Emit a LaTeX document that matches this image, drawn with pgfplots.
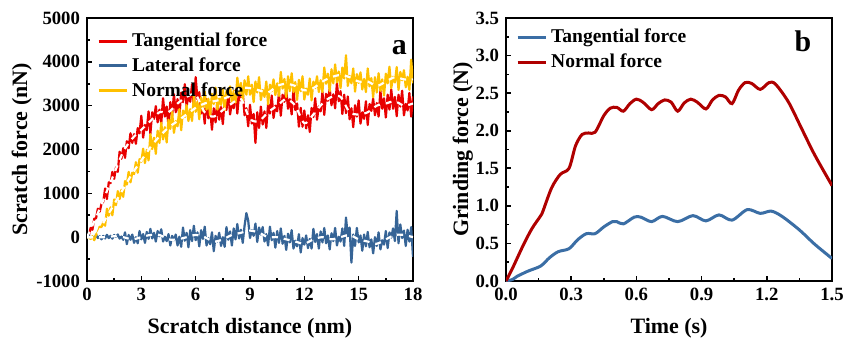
\documentclass[border=0pt]{standalone}
\usepackage{fontspec}
\setmainfont{Liberation Serif}
\usepackage{pgfplots}
\usepackage{pgfplotstable}
\pgfplotsset{compat=1.18}
\definecolor{cRed}{RGB}{232,0,0}
\definecolor{cYel}{RGB}{255,192,0}
\definecolor{cBlu}{RGB}{54,100,150}
\definecolor{dRed}{RGB}{175,0,0}
\definecolor{dBlu}{RGB}{59,110,165}

\pgfplotstableread{
x T L N
0.0 0 0 0
0.1 40 40 0
0.2 210 -30 -40
0.3 170 10 20
0.4 420 -40 -70
0.5 430 50 60
0.6 650 -20 110
0.7 580 20 240
0.8 760 -50 230
0.9 810 30 340
1.0 1110 -30 260
1.1 870 54 650
1.2 1250 -22 490
1.3 1230 32 680
1.4 1490 -34 500
1.5 1330 50 860
1.6 1590 6 730
1.7 1490 62 1050
1.8 1950 -32 870
1.9 1790 14 1080
2.0 2030 -60 920
2.1 1810 110 1280
2.2 2190 -160 1200
2.3 2030 50 1490
2.4 2370 -60 1250
2.5 2150 60 1470
2.6 2350 -130 1440
2.7 2130 0 1710
2.8 2490 -140 1470
2.9 2370 140 1780
3.0 2770 -50 1720
3.1 2270 70 2020
3.2 2560 -130 1690
3.3 2440 120 1990
3.4 2870 -40 1750
3.5 2360 190 2350
3.6 2850 -30 2010
3.7 2700 100 2270
3.8 2990 -100 1900
3.9 2620 140 2430
4.0 2910 20 2150
4.1 2590 180 2610
4.2 3170 -100 2230
4.3 2750 10 2510
4.4 2980 -90 2160
4.5 2530 70 2680
4.6 3080 -190 2470
4.7 2770 30 2860
4.8 3260 -70 2380
4.9 2850 60 2650
5.0 3150 -190 2530
5.1 2760 10 2920
5.2 3300 -220 2440
5.3 3080 220 2890
5.4 3490 -80 2740
5.5 2980 100 3010
5.6 3240 -230 2650
5.7 3090 160 2920
5.8 3490 -90 2650
5.9 2950 260 3220
6.0 3650 -70 2860
6.1 3140 110 3090
6.2 3310 -210 2690
6.3 2820 160 3190
6.4 2990 -40 2880
6.5 2590 240 3320
6.6 3150 -190 2910
6.7 2710 -20 3160
6.8 2920 -160 2780
6.9 2450 110 3270
7.0 2940 -320 3040
7.1 2620 30 3410
7.2 3100 -100 2910
7.3 2680 100 3160
7.4 2970 -200 3020
7.5 2580 0 3390
7.6 3120 -220 2900
7.7 2900 230 3340
7.8 3310 -60 3180
7.9 2800 130 3440
8.0 3080 -190 3070
8.1 2940 200 3340
8.2 3350 -50 3070
8.3 2820 300 3640
8.4 3290 -30 3280
8.5 3120 170 3520
8.6 3280 -130 3100
8.7 2780 260 3580
8.8 2940 550 3250
8.9 2530 380 3670
9.0 3020 -20 3250
9.1 2590 160 3480
9.2 2810 30 3080
9.3 2150 310 3550
9.4 2850 -110 3300
9.5 2490 220 3650
9.6 2980 60 3130
9.7 2570 230 3360
9.8 2870 -100 3200
9.9 2490 70 3550
10.0 3040 -190 3030
10.1 2820 240 3480
10.2 3230 -70 3330
10.3 2720 100 3600
10.4 3000 -240 3240
10.5 2870 140 3510
10.6 3290 -130 3220
10.7 2770 200 3770
10.8 3250 -150 3390
10.9 3090 30 3610
11.0 3370 -290 3200
11.1 2930 80 3670
11.2 3150 -120 3330
11.3 2800 160 3740
11.4 3350 -260 3310
11.5 2900 -80 3540
11.6 3050 -210 3130
11.7 2520 70 3590
11.8 2950 -350 3330
11.9 2520 -20 3670
12.0 2890 -170 3140
12.1 2480 40 3390
12.2 2780 -250 3250
12.3 2400 -40 3620
12.4 2950 -260 3120
12.5 2740 190 3550
12.6 3170 -110 3400
12.7 2680 70 3670
12.8 2980 -260 3310
12.9 2870 130 3580
13.0 3310 -120 3310
13.1 2790 210 3870
13.2 3270 -140 3500
13.3 3110 40 3730
13.4 3390 -280 3330
13.5 3010 90 3830
13.6 3260 -90 3510
13.7 2940 210 3940
13.8 3520 -190 3530
13.9 3100 10 3780
14.0 3330 -100 3400
14.1 2810 200 3870
14.2 3250 -200 3620
14.3 2830 450 4150
14.4 3210 20 3450
14.5 2690 220 3680
14.6 2940 -580 3510
14.7 2510 60 3850
14.8 3010 -200 3320
14.9 2750 210 3720
15.0 3120 -120 3520
15.1 2590 40 3760
15.2 2850 -310 3370
15.3 2700 60 3610
15.4 3100 -210 3310
15.5 2560 120 3850
15.6 3040 -230 3440
15.7 2880 -50 3630
15.8 3160 -370 3190
15.9 2780 0 3650
16.0 3060 -200 3300
16.1 2750 110 3740
16.2 3340 -280 3340
16.3 2930 -70 3600
16.4 3170 -170 3230
16.5 2730 140 3730
16.6 3250 -250 3510
16.7 2910 110 3890
16.8 3370 -10 3400
16.9 2930 200 3660
17.0 3200 -90 3530
17.1 2760 600 3880
17.2 3250 -140 3360
17.3 2980 290 3770
17.4 3340 -20 3580
17.5 2780 150 3810
17.6 3040 -200 3420
17.7 2890 170 3660
17.8 3290 -100 3360
17.9 2750 230 4050
18.0 3210 -450 3510
}\scratchdata

\pgfplotstableread{
x T L N
0 0 0 0
0.5 450 0 30
1 950 0 400
1.5 1450 20 750
2 1950 0 1100
2.5 2250 -50 1450
3 2450 0 1750
3.5 2650 50 2050
4 2850 50 2300
4.5 2850 -50 2500
5 3050 -50 2650
5.5 3200 0 2800
6 3250 50 2950
6.5 2850 0 3050
7 2750 -100 3100
7.5 2900 -50 3150
8 3050 50 3250
8.5 3150 100 3400
9 2700 150 3400
9.5 2650 100 3350
10 2850 0 3300
10.5 3000 0 3450
11 3150 -50 3500
11.5 3000 -100 3450
12 2600 -150 3350
12.5 2800 -50 3400
13 3050 0 3550
13.5 3200 -50 3650
14 3200 0 3700
14.5 2850 50 3650
15 2800 -50 3550
15.5 2850 -100 3550
16 3000 -150 3450
16.5 3050 -50 3550
17 3100 50 3650
17.5 3000 50 3600
18 3050 0 3600
}\scratchmean

\pgfplotstableread{
x y
0.00 0.00
0.03 0.17
0.08 0.48
0.12 0.70
0.16 0.87
0.17 0.93
0.21 1.24
0.25 1.42
0.29 1.50
0.32 1.80
0.35 1.95
0.38 1.97
0.41 1.98
0.45 2.20
0.48 2.30
0.51 2.31
0.54 2.26
0.57 2.36
0.60 2.42
0.63 2.38
0.67 2.28
0.70 2.36
0.73 2.41
0.76 2.38
0.79 2.26
0.82 2.37
0.85 2.42
0.88 2.38
0.92 2.29
0.95 2.41
0.98 2.47
1.01 2.45
1.04 2.36
1.07 2.54
1.10 2.64
1.13 2.63
1.17 2.55
1.21 2.64
1.24 2.62
1.30 2.38
1.36 2.03
1.42 1.68
1.50 1.27
}\normalforce

\pgfplotstableread{
x y
0.00 0.00
0.03 0.02
0.05 0.06
0.10 0.13
0.16 0.20
0.20 0.31
0.24 0.39
0.29 0.43
0.33 0.55
0.37 0.63
0.41 0.63
0.45 0.72
0.49 0.79
0.51 0.79
0.54 0.76
0.59 0.85
0.62 0.85
0.67 0.79
0.72 0.86
0.79 0.79
0.86 0.87
0.92 0.80
0.98 0.88
1.04 0.81
1.11 0.95
1.17 0.90
1.22 0.93
1.27 0.86
1.35 0.68
1.42 0.49
1.50 0.30
}\tangforce

\pgfplotsset{
  myaxis/.style={
    scale only axis, width=163bp, height=131.5bp,
    axis line style={line width=1bp},
    every tick/.style={line width=0.8bp, black},
    major tick length=2.5bp, minor tick length=1.5bp,
    tick align=inside, xtick pos=bottom, ytick pos=left,
    minor tick num=1,
    tick label style={font=\fontsize{9.4}{10}\selectfont\bfseries},
    label style={font=\fontsize{11}{13}\selectfont\bfseries},
    xlabel style={at={(axis description cs:0.5,-0.198)}, anchor=base},
    legend cell align=left,
    legend style={draw=none, fill=none, inner sep=0pt, row sep=0bp,
      font=\fontsize{9.8}{11}\selectfont\bfseries},
    legend image code/.code={\draw[#1, line width=1.5bp] (0bp,0bp) -- (14bp,0bp);},
  }
}

\begin{document}
\begin{tikzpicture}
\path[use as bounding box] (-43.5bp,-29bp) rectangle (383.5bp,140.5bp);
\begin{axis}[myaxis,
  xmin=0, xmax=18, ymin=-1000, ymax=5000,
  xtick={0,3,6,9,12,15,18}, xticklabels={0,3,6,9,12,15,18},
  ytick={-1000,0,1000,2000,3000,4000,5000},
  yticklabels={-1000,0,1000,2000,3000,4000,5000},
  xlabel={Scratch distance (nm)}, ylabel={Scratch force (nN)},
  ylabel style={at={(axis description cs:-0.184,0.5)}, anchor=base, rotate=0},
  legend style={at={(axis description cs:0.03,0.96)}, anchor=north west},
]
\addplot[cRed, line width=1.1bp, line join=round] table[x=x, y=T] {\scratchdata};
\addlegendentry{Tangential force}
\addplot[cBlu, line width=1.1bp, line join=round] table[x=x, y=L] {\scratchdata};
\addlegendentry{Lateral force}
\addplot[cYel, line width=1.1bp, line join=round] table[x=x, y=N] {\scratchdata};
\addlegendentry{Normal force}
\addplot[white, line width=1.1bp, dash pattern=on 3bp off 3bp, smooth, forget plot] table[x=x, y=T] {\scratchmean};
\addplot[white, line width=1.1bp, dash pattern=on 3bp off 3bp, smooth, forget plot] table[x=x, y=L] {\scratchmean};
\addplot[white, line width=1.1bp, dash pattern=on 3bp off 3bp, smooth, forget plot] table[x=x, y=N] {\scratchmean};
\node[font=\fontsize{15}{15}\selectfont\bfseries] at (axis description cs:0.958,0.888) {a};
\end{axis}

\begin{axis}[myaxis, at={(209.5bp,0)},
  xmin=0, xmax=1.5, ymin=0, ymax=3.5,
  xtick={0,0.3,0.6,0.9,1.2,1.5}, xticklabels={0.0,0.3,0.6,0.9,1.2,1.5},
  ytick={0,0.5,1,1.5,2,2.5,3,3.5},
  yticklabels={0.0,0.5,1.0,1.5,2.0,2.5,3.0,3.5},
  xlabel={Time (s)}, ylabel={Grinding force (N)},
  ylabel style={at={(axis description cs:-0.116,0.5)}, anchor=base, rotate=0},
  legend style={at={(axis description cs:0.03,0.975)}, anchor=north west},
]
\addplot[dBlu, line width=1.5bp, smooth] table[x=x, y=y] {\tangforce};
\addlegendentry{Tangential force}
\addplot[dRed, line width=1.5bp, smooth] table[x=x, y=y] {\normalforce};
\addlegendentry{Normal force}
\node[font=\fontsize{15}{15}\selectfont\bfseries] at (axis description cs:0.911,0.912) {b};
\end{axis}
\end{tikzpicture}
\end{document}
